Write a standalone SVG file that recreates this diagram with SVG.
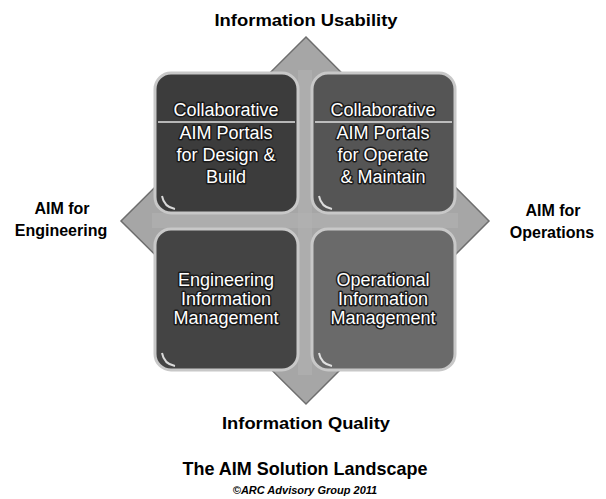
<svg xmlns="http://www.w3.org/2000/svg" width="606" height="499" viewBox="0 0 606 499">
<style>
.lbl{font-family:"Liberation Sans",Arial,sans-serif;font-weight:bold;fill:#000;text-anchor:middle}
.box{stroke:#c8c8c8;stroke-width:3}
.bt{font-family:"Liberation Sans",Arial,sans-serif;font-size:18px;fill:#fff;text-anchor:middle;stroke:#1a1a1a;stroke-width:3;paint-order:stroke;stroke-linejoin:round}
.gl{fill:none;stroke:#fff;stroke-width:2;opacity:0.8}
</style>
<rect width="606" height="499" fill="#fff"/>
<g id="diamond">
<polygon points="306,37 489,221 306,404 121,221" fill="#a6a6a6" stroke="#6e6e6e" stroke-width="1.5"/>
<rect x="298" y="70" width="14" height="305" fill="#b4b4b4" opacity="0.5"/>
<rect x="152" y="213" width="306" height="15" fill="#b4b4b4" opacity="0.5"/>
</g>
<g id="box-design-build">
<rect class="box" x="155" y="73" width="143" height="140" rx="16" fill="#3c3c3c"/>
<line x1="158" y1="122" x2="295" y2="122" stroke="#e0e0e0" stroke-width="1.5"/>
<path class="gl" d="M162,196 Q164,207 175,209"/>
<text class="bt" x="226" y="116">Collaborative</text>
<text class="bt" x="226" y="139">AIM Portals</text>
<text class="bt" x="226" y="161">for Design &amp;</text>
<text class="bt" x="226" y="183">Build</text>
</g>
<g id="box-operate-maintain">
<rect class="box" x="312" y="73" width="143" height="140" rx="16" fill="#555555"/>
<line x1="315" y1="122" x2="452" y2="122" stroke="#e0e0e0" stroke-width="1.5"/>
<path class="gl" d="M319,196 Q321,207 332,209"/>
<text class="bt" x="383" y="116">Collaborative</text>
<text class="bt" x="383" y="139">AIM Portals</text>
<text class="bt" x="383" y="161">for Operate</text>
<text class="bt" x="383" y="183">&amp; Maintain</text>
</g>
<g id="box-engineering-im">
<rect class="box" x="155" y="229" width="143" height="141" rx="16" fill="#444444"/>
<path class="gl" d="M162,353 Q164,364 175,366"/>
<text class="bt" x="226" y="286">Engineering</text>
<text class="bt" x="226" y="305">Information</text>
<text class="bt" x="226" y="324">Management</text>
</g>
<g id="box-operational-im">
<rect class="box" x="312" y="229" width="143" height="141" rx="16" fill="#6a6a6a"/>
<path class="gl" d="M319,353 Q321,364 332,366"/>
<text class="bt" x="383" y="286">Operational</text>
<text class="bt" x="383" y="305">Information</text>
<text class="bt" x="383" y="324">Management</text>
</g>
<g id="label-usability">
<text class="lbl" x="306" y="26" font-size="17" textLength="183" lengthAdjust="spacingAndGlyphs">Information Usability</text>
</g>
<g id="label-engineering">
<text class="lbl" x="62" y="214" font-size="16">AIM for</text>
<text class="lbl" x="61" y="236" font-size="16">Engineering</text>
</g>
<g id="label-operations">
<text class="lbl" x="553" y="216" font-size="16">AIM for</text>
<text class="lbl" x="552" y="238" font-size="16">Operations</text>
</g>
<g id="label-quality">
<text class="lbl" x="306" y="429" font-size="17" textLength="168" lengthAdjust="spacingAndGlyphs">Information Quality</text>
</g>
<g id="title">
<text class="lbl" x="305" y="475" font-size="19" textLength="245" lengthAdjust="spacingAndGlyphs">The AIM Solution Landscape</text>
<text class="lbl" x="305" y="494" font-size="11" font-style="italic">©ARC Advisory Group 2011</text>
</g>
</svg>
